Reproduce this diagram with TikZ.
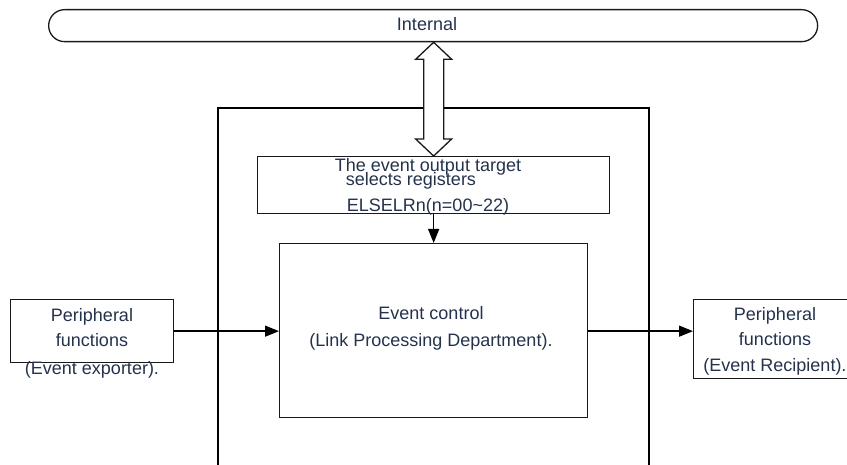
\documentclass[tikz,border=0pt]{standalone}
\usepackage{fontspec}
\setmainfont{Liberation Sans}
\usetikzlibrary{arrows.meta,calc}
\definecolor{txt}{RGB}{36,50,76}
\definecolor{ln}{RGB}{25,25,25}
\tikzset{
  box/.style={draw=ln,line width=1.3pt,fill=none,minimum width=#1,anchor=north west,inner sep=0pt},
  lbl/.style={text=txt,anchor=base,inner sep=0pt,font=\fontsize{18}{20}\selectfont},
  conn/.style={draw=black,line width=1.3pt,-{Triangle[length=14pt,width=11pt]}},
}
\begin{document}
\begin{tikzpicture}[x=1pt,y=-1pt]
\useasboundingbox (0,0) rectangle (847,465);
% Internal bus bar
\node[draw=ln,line width=1.3pt,rounded corners=16pt,minimum width=769pt,minimum height=32pt,anchor=north west,inner sep=0pt] (bar) at (48,9) {};
\node[lbl] (tbar) at (427,31) {Internal};
% outer frame (open at bottom)
\coordinate (fbl) at (218,465);
\coordinate (ftl) at (218,108);
\coordinate (ftr) at (649,108);
\coordinate (fbr) at (649,465);
\draw[black,line width=2.2pt] (fbl) -- (ftl) -- (ftr) -- (fbr);
% register box
\node[box=352pt,minimum height=57pt] (reg) at (257,156) {};
\node[lbl] (r1) at (428,172) {The event output target};
\node[lbl] (r2) at (411,186) {selects registers};
\node[lbl] (r3) at (428,212) {ELSELRn(n=00\textasciitilde22)};
% event control box
\node[box=308pt,minimum height=174pt] (ctrl) at (279,243) {};
\node[lbl] (c1) at (431,320) {Event control};
\node[lbl] (c2) at (431,347) {(Link Processing Department).};
% left peripheral box
\node[box=163pt,minimum height=63pt] (lbox) at (10,299) {};
\node[lbl] (l1) at (92,322) {Peripheral};
\node[lbl] (l2) at (92,347) {functions};
\node[lbl] (l3) at (92,374) {(Event exporter).};
% right peripheral box
\node[box=175pt,minimum height=79pt] (rbox) at (693,299) {};
\node[lbl] (q1) at (775,321) {Peripheral};
\node[lbl] (q2) at (775,345) {functions};
\node[lbl] (q3) at (775,372) {(Event Recipient).};
% double arrow between bus and register box
\coordinate (dt) at (reg.north |- bar.south);
\coordinate (db) at (reg.north);
\draw[ln,line width=1.3pt,fill=white,line join=miter]
  (dt) -- ($(dt)+(18,17)$) -- ($(dt)+(10,17)$) -- ($(db)+(10,-17)$) -- ($(db)+(18,-17)$)
  -- (db) -- ($(db)+(-18,-17)$) -- ($(db)+(-10,-17)$) -- ($(dt)+(-10,17)$) -- ($(dt)+(-18,17)$) -- cycle;
% connectors
\draw[conn] (reg.south) -- (ctrl.north);
\draw[conn] (lbox.east) -- (lbox.east -| ctrl.west);
\draw[conn] (ctrl.east |- lbox.east) -- (lbox.east -| rbox.west);
\end{tikzpicture}
\end{document}
